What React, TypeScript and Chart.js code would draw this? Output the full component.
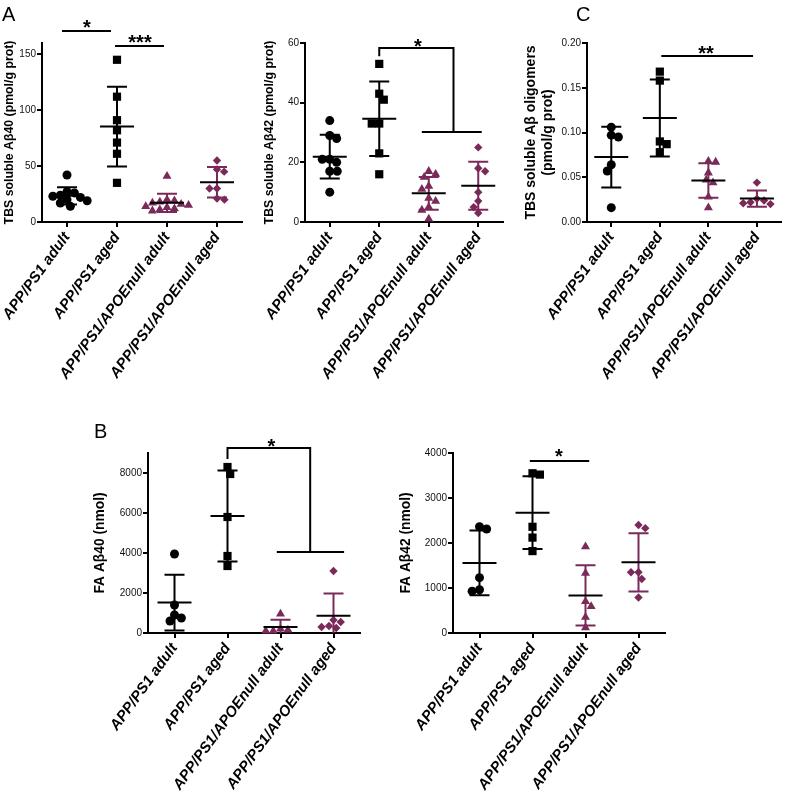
import React, { useEffect, useRef } from "react";
import { Chart, registerables } from "chart.js";
Chart.register(...registerables);

const W = 787;
const H = 799;
const family = "'Liberation Sans', Arial, sans-serif";
const purple = "#7a2a58";

const categories = ["APP/PS1 adult", "APP/PS1 aged", "APP/PS1/APOEnull adult", "APP/PS1/APOEnull aged"];

// Panel A (left): TBS soluble Aβ40
const a40Adult = [42, 27, 26, 24, 23, 22, 20, 19, 17, 14];
const a40Aged = [145, 112, 91, 82, 71, 61, 35];
const a40NullAdult = [41, 20, 19, 18, 17, 16, 15, 14, 13, 12, 11, 10];
const a40NullAged = [55, 47, 45, 30, 30, 21, 20];
const a40Ticks = [0, 50, 100, 150];

// Panel A (right): TBS soluble Aβ42
const a42Adult = [34, 29, 28, 21, 21, 20, 17, 17, 10];
const a42Aged = [53, 43, 41, 33, 33, 23, 16];
const a42NullAdult = [17, 16, 15, 12, 11, 8, 7, 5, 4, 1];
const a42NullAged = [25, 17, 18, 10, 7, 5, 3];
const a42Ticks = [0, 20, 40, 60];

// Panel C: TBS soluble Aβ oligomers
const oligoAdult = [0.106, 0.095, 0.097, 0.064, 0.057, 0.016];
const oligoAged = [0.168, 0.158, 0.09, 0.087, 0.078];
const oligoNullAdult = [0.067, 0.068, 0.055, 0.047, 0.044, 0.028, 0.016];
const oligoNullAged = [0.044, 0.026, 0.022, 0.02, 0.021, 0.024];
const oligoTicks = [0, 0.05, 0.1, 0.15, 0.2];

// Panel B (left): FA Aβ40
const fa40Adult = [3950, 1400, 900, 750, 600];
const fa40Aged = [8300, 7950, 5800, 3850, 3350];
const fa40NullAdult = [950, 200, 100, 100, 150];
const fa40NullAged = [3100, 650, 550, 350, 300, 250];
const fa40Ticks = [0, 2000, 4000, 6000, 8000];

// Panel B (right): FA Aβ42
const fa42Adult = [2310, 2360, 1230, 930, 960];
const fa42Aged = [3520, 3550, 2360, 2120, 1820];
const fa42NullAdult = [1920, 1330, 700, 590, 350, 120];
const fa42NullAged = [2330, 2400, 1350, 1350, 1200, 790];
const fa42Ticks = [0, 1000, 2000, 3000, 4000];

type Sig = { lines: number[][][]; stars: { t: string; x: number; y: number }[] };
type Spec = {
  groups: number[][];
  ticks: number[];
  yMax: number;
  title: string | string[];
  titleSize: number;
  titleX: number;
  area: { left: number; right: number; top: number; bottom: number };
  fmt: (v: number) => string;
  sig: Sig;
  letter?: { text: string; x: number; y: number };
};

const panels: Spec[] = [
  {
    groups: [a40Adult, a40Aged, a40NullAdult, a40NullAged],
    ticks: a40Ticks,
    yMax: 160,
    title: "TBS soluble Aβ40 (pmol/g prot)",
    titleSize: 12.3,
    titleX: 9.5,
    area: { left: 42, right: 242, top: 43, bottom: 222 },
    fmt: (v) => String(v),
    sig: {
      lines: [
        [[-0.1, 170.7], [0.88, 170.7]],
        [[0.96, 157.3], [1.94, 157.3]],
      ],
      stars: [
        { t: "*", x: 0.4, y: 178 },
        { t: "***", x: 1.46, y: 164.5 },
      ],
    },
    letter: { text: "A", x: 2, y: 21 },
  },
  {
    groups: [a42Adult, a42Aged, a42NullAdult, a42NullAged],
    ticks: a42Ticks,
    yMax: 60,
    title: "TBS soluble Aβ42 (pmol/g prot)",
    titleSize: 12.3,
    titleX: 269.5,
    area: { left: 305, right: 503, top: 43, bottom: 222 },
    fmt: (v) => String(v),
    sig: {
      lines: [
        [[1, 55.6], [1, 58.3], [2.5, 58.3], [2.5, 30.2]],
        [[1.86, 30.2], [3.07, 30.2]],
      ],
      stars: [{ t: "*", x: 1.78, y: 60.6 }],
    },
  },
  {
    groups: [oligoAdult, oligoAged, oligoNullAdult, oligoNullAged],
    ticks: oligoTicks,
    yMax: 0.2,
    title: ["TBS soluble Aβ oligomers", "(pmol/g prot)"],
    titleSize: 14,
    titleX: 531,
    area: { left: 587, right: 786, top: 43, bottom: 222 },
    fmt: (v) => v.toFixed(2),
    sig: {
      lines: [[[1.03, 0.1855], [2.92, 0.1855]]],
      stars: [{ t: "**", x: 1.95, y: 0.194 }],
    },
    letter: { text: "C", x: 576, y: 21 },
  },
  {
    groups: [fa40Adult, fa40Aged, fa40NullAdult, fa40NullAged],
    ticks: fa40Ticks,
    yMax: 9000,
    title: "FA Aβ40 (nmol)",
    titleSize: 13.8,
    titleX: 100,
    area: { left: 148, right: 360, top: 453, bottom: 633 },
    fmt: (v) => String(v),
    sig: {
      lines: [
        [[1, 8700], [1, 9250], [2.56, 9250], [2.56, 4050]],
        [[1.93, 4050], [3.2, 4050]],
      ],
      stars: [{ t: "*", x: 1.83, y: 9600 }],
    },
    letter: { text: "B", x: 94, y: 438 },
  },
  {
    groups: [fa42Adult, fa42Aged, fa42NullAdult, fa42NullAged],
    ticks: fa42Ticks,
    yMax: 4000,
    title: "FA Aβ42 (nmol)",
    titleSize: 13.8,
    titleX: 406,
    area: { left: 453, right: 665, top: 453, bottom: 633 },
    fmt: (v) => String(v),
    sig: {
      lines: [[[0.95, 3822], [2.07, 3822]]],
      stars: [{ t: "*", x: 1.5, y: 4033 }],
    },
  },
];

const groupColors = ["#000000", "#000000", purple, purple];
const groupStyles = ["circle", "rect", "triangle", "rectRot"];
const groupRadii = [4.5, 5.8, 5.2, 4.2];

function swarm(values: number[], pxX: number, pxY: number, d: number): number[] {
  const order = values.map((_, i) => i).sort((a, b) => values[b] - values[a]);
  const placed: { x: number; y: number }[] = [];
  const out = new Array(values.length).fill(0);
  let flip = 1;
  for (const i of order) {
    const yv = values[i] * pxY;
    const near = placed.filter((p) => Math.abs(p.y - yv) < d);
    const cands = [0];
    near.forEach((p) => {
      const dx = Math.sqrt(Math.max(d * d - (p.y - yv) ** 2, 0));
      cands.push(p.x + dx, p.x - dx);
    });
    const ok = (cx: number) => near.every((p) => (p.x - cx) ** 2 + (p.y - yv) ** 2 >= d * d - 0.05);
    const valid = cands.filter(ok).sort((a, b) => {
      const diff = Math.abs(a) - Math.abs(b);
      if (Math.abs(diff) > 0.01) return diff;
      return flip * (b - a);
    });
    const xv = valid.length ? valid[0] : 0;
    if (valid.length > 1 && Math.abs(Math.abs(valid[0]) - Math.abs(valid[1])) < 0.01) flip = -flip;
    placed.push({ x: xv, y: yv });
    out[i] = xv / pxX;
  }
  return out;
}

const mean = (a: number[]) => a.reduce((s, v) => s + v, 0) / a.length;
const stdev = (a: number[]) => {
  const m = mean(a);
  return Math.sqrt(a.reduce((s, v) => s + (v - m) ** 2, 0) / (a.length - 1));
};

function Panel({ spec }: { spec: Spec }) {
  const ref = useRef<HTMLCanvasElement>(null);
  useEffect(() => {
    const canvas = ref.current!;
    const s = spec;
    const pxX = (s.area.right - s.area.left) / 4;
    const pxY = (s.area.bottom - s.area.top) / s.yMax;
    const lh = s.titleSize * 1.2;
    const pl = s.titleX - lh / 2;

    const datasets = s.groups.map((vals, gi) => {
      const offs = swarm(vals, pxX, pxY, 7.5);
      return {
        data: vals.map((v, i) => ({ x: gi + offs[i], y: v })),
        pointStyle: groupStyles[gi],
        pointRadius: groupRadii[gi],
        pointHoverRadius: groupRadii[gi],
        backgroundColor: groupColors[gi],
        borderColor: groupColors[gi],
        borderWidth: 0,
        showLine: false,
        clip: false as any,
      };
    });

    const overlay = {
      id: "overlay",
      afterDatasetsDraw(chart: any) {
        const { ctx } = chart;
        const x = chart.scales.x;
        const y = chart.scales.y;
        ctx.save();
        ctx.lineCap = "butt";
        s.groups.forEach((vals, gi) => {
          const m = mean(vals);
          const sd = stdev(vals);
          const cx = x.getPixelForValue(gi);
          const ym = y.getPixelForValue(m);
          const top = m + sd;
          const botRaw = m - sd;
          const bot = Math.max(botRaw, 0);
          const yt = y.getPixelForValue(top);
          const yb = y.getPixelForValue(bot);
          ctx.strokeStyle = groupColors[gi];
          ctx.lineWidth = 2;
          ctx.beginPath();
          ctx.moveTo(cx, yt);
          ctx.lineTo(cx, yb);
          ctx.moveTo(cx - 10, yt);
          ctx.lineTo(cx + 10, yt);
          if (botRaw >= 0) {
            ctx.moveTo(cx - 10, yb);
            ctx.lineTo(cx + 10, yb);
          }
          ctx.stroke();
          ctx.strokeStyle = "#000";
          ctx.lineWidth = 2;
          ctx.beginPath();
          ctx.moveTo(cx - 17, ym);
          ctx.lineTo(cx + 17, ym);
          ctx.stroke();
        });
        ctx.strokeStyle = "#000";
        ctx.lineWidth = 2;
        s.sig.lines.forEach((pts) => {
          ctx.beginPath();
          pts.forEach(([px, py], k) => {
            const X = x.getPixelForValue(px);
            const Y = y.getPixelForValue(py);
            if (k === 0) ctx.moveTo(X, Y);
            else ctx.lineTo(X, Y);
          });
          ctx.stroke();
        });
        ctx.fillStyle = "#000";
        ctx.font = `bold 20px ${family}`;
        ctx.textAlign = "center";
        ctx.textBaseline = "alphabetic";
        s.sig.stars.forEach((st) => {
          ctx.fillText(st.t, x.getPixelForValue(st.x), y.getPixelForValue(st.y) + 11.5);
        });
        if (s.letter) {
          ctx.font = `20px ${family}`;
          ctx.textAlign = "left";
          ctx.fillText(s.letter.text, s.letter.x, s.letter.y);
        }
        ctx.restore();
      },
    };

    const gridOpts = {
      display: true,
      drawOnChartArea: false,
      drawTicks: true,
      tickLength: 5,
      color: "#000",
      lineWidth: 2,
    };
    const borderOpts = { display: true, color: "#000", width: 2 };

    const chart = new Chart(canvas, {
      type: "scatter",
      data: { datasets: datasets as any },
      plugins: [overlay],
      options: {
        animation: false,
        responsive: false,
        devicePixelRatio: 1,
        events: [],
        layout: {
          padding: { left: pl, top: s.area.top, right: W - s.area.right, bottom: 0 },
        },
        plugins: { legend: { display: false }, tooltip: { enabled: false } },
        scales: {
          x: {
            type: "linear",
            min: -0.5,
            max: 3.5,
            afterBuildTicks: (sc: any) => {
              sc.ticks = [0, 1, 2, 3].map((v) => ({ value: v }));
            },
            afterFit: (sc: any) => {
              sc.height = H - s.area.bottom;
              sc.paddingLeft = 0;
              sc.paddingRight = 0;
            },
            ticks: {
              autoSkip: false,
              minRotation: 54,
              maxRotation: 54,
              padding: 2,
              color: "#000",
              font: { family, size: 15, style: "italic", weight: "bold" },
              callback: (v: any) => categories[Math.round(Number(v))] ?? "",
            },
            grid: gridOpts as any,
            border: borderOpts,
          },
          y: {
            type: "linear",
            min: 0,
            max: s.yMax,
            afterBuildTicks: (sc: any) => {
              sc.ticks = s.ticks.map((v) => ({ value: v }));
            },
            afterFit: (sc: any) => {
              sc.width = s.area.left - pl;
              sc.paddingTop = 0;
              sc.paddingBottom = 0;
            },
            ticks: {
              padding: 1,
              color: "#111",
              font: { family, size: 10 },
              callback: (v: any) => s.fmt(Number(v)),
            },
            grid: gridOpts as any,
            border: borderOpts,
            title: {
              display: true,
              text: s.title,
              color: "#000",
              padding: 0,
              font: { family, size: s.titleSize, weight: "bold" },
            },
          },
        },
      } as any,
    });
    return () => chart.destroy();
  }, []);
  return (
    <canvas
      ref={ref}
      width={W}
      height={H}
      style={{ position: "absolute", left: 0, top: 0, width: W, height: H }}
    />
  );
}

export default function App() {
  return (
    <div style={{ position: "absolute", left: 0, top: 0, width: W, height: H, background: "#fff" }}>
      {panels.map((p, i) => (
        <Panel key={i} spec={p} />
      ))}
    </div>
  );
}
